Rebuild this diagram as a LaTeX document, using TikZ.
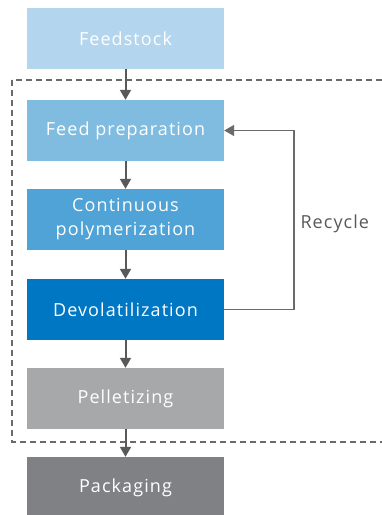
\documentclass[tikz,border=0pt]{standalone}
\usepackage{fontspec}
\setmainfont{Open Sans}[LetterSpace=6]
\usetikzlibrary{positioning,arrows.meta}

\definecolor{feedblue}{HTML}{B3D5EE}
\definecolor{prepblue}{HTML}{7FBCE0}
\definecolor{polyblue}{HTML}{4FA3D6}
\definecolor{devolblue}{HTML}{0077C2}
\definecolor{pelletgray}{HTML}{A7A8AA}
\definecolor{packgray}{HTML}{808184}
\definecolor{linegray}{HTML}{58595B}

\tikzset{
  stage/.style={minimum width=197pt, minimum height=61pt, inner sep=0pt,
    text=white, align=center, font=\fontsize{18}{24}\selectfont},
  flow/.style={-{Triangle[length=10pt,width=11pt]}, line width=2pt, color=linegray},
  recycleline/.style={-{Triangle[length=10pt,width=11pt]}, line width=1.6pt, color=linegray!90},
  battery/.style={dash pattern=on 6pt off 4pt, line width=1.8pt, color=linegray!90}
}

\begin{document}
\begin{tikzpicture}[x=1pt,y=-1pt]
\useasboundingbox (0,0) rectangle (381,515);

% process stages
\node[stage, fill=feedblue] (feedstock) at (125.5,38.5) {Feedstock};
\node[stage, fill=prepblue] (prep) at (125.5,130.5) {Feed preparation};
\node[stage, fill=polyblue] (poly) at (125.5,219.5) {Continuous\\polymerization};
\node[stage, fill=devolblue] (devol) at (125.5,309.5) {Devolatilization};
\node[stage, fill=pelletgray] (pellet) at (125.5,398.5) {Pelletizing};
\node[stage, fill=packgray] (pack) at (125.5,487.5) {Packaging};

% plant boundary
\draw[battery] (12,80) rectangle (400,442);

\draw[flow] (feedstock) -- (prep);
\draw[flow] (prep) -- (poly);
\draw[flow] (poly) -- (devol);
\draw[flow] (devol) -- (pellet);
\draw[flow] (pellet) -- (pack);

% recycle loop
\draw[recycleline] (devol.east) -- ++(70,0) coordinate (turn) |- (prep.east);
\node[text=linegray, font=\fontsize{18}{21}\selectfont, anchor=west] (recycle) at (297,224) {Recycle};

\end{tikzpicture}
\end{document}
